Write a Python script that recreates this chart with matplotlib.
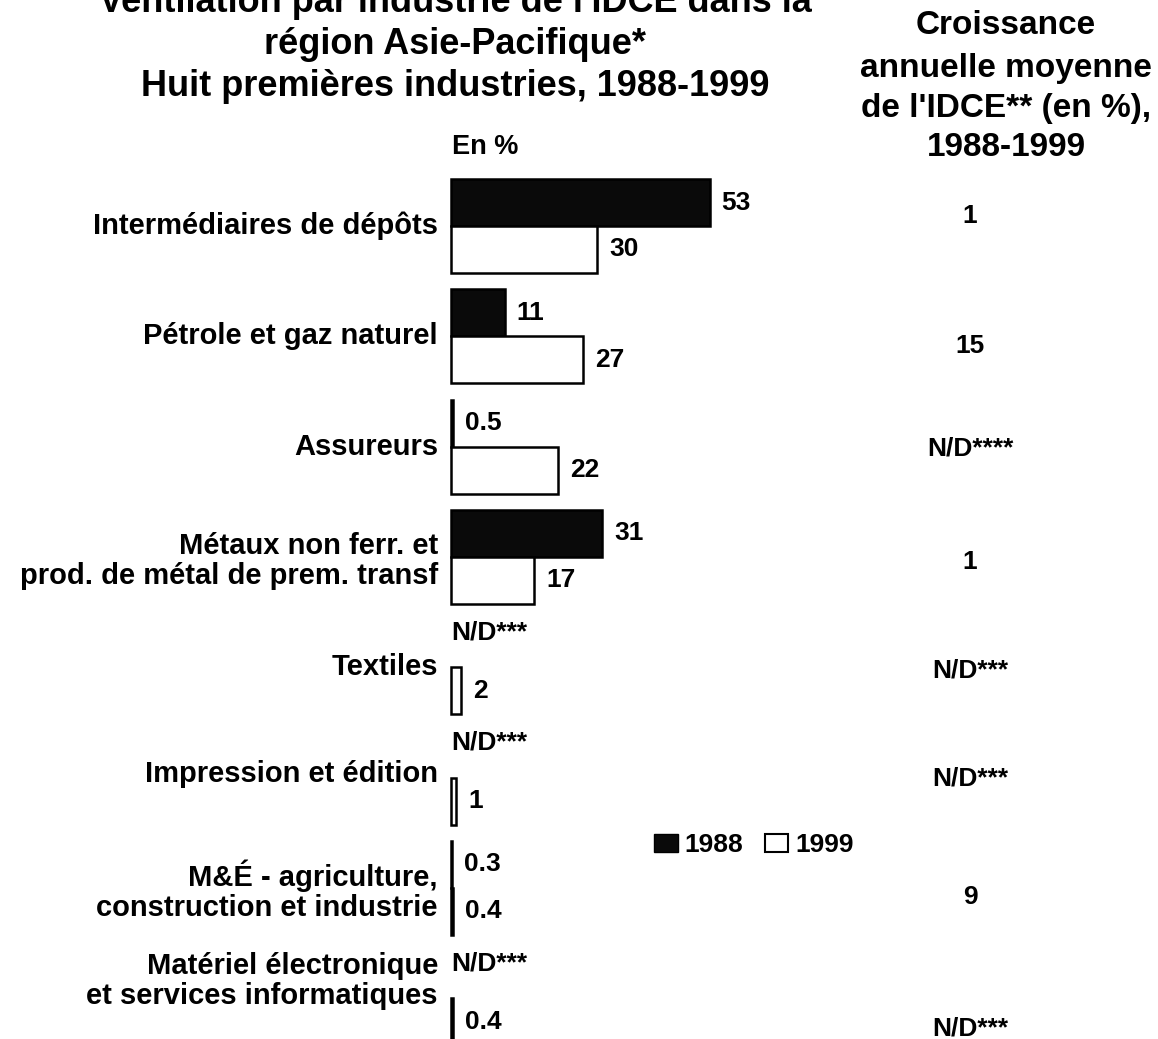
#! /usr/bin/env python3
# ----------------------------------------------------------------------------------------
# IDCE Asie-Pacifique : ventilation par industrie, 1988 et 1999.
# ----------------------------------------------------------------------------------------

import matplotlib
matplotlib.use('Agg')
import matplotlib.pyplot as plt
from matplotlib.patches import Patch

plt.rcParams['font.family'] = ['Liberation Sans', 'DejaVu Sans']
plt.rcParams['font.weight'] = 'bold'

industries = [
    "Intermédiaires de dépôts",
    "Pétrole et gaz naturel",
    "Assureurs",
    "Métaux non ferr. et\nprod. de métal de prem. transf",
    "Textiles",
    "Impression et édition",
    "M&É - agriculture,\nconstruction et industrie",
    "Matériel électronique\net services informatiques",
]
share_1988 = [53, 11, 0.5, 31, None, None, 0.3, None]
share_1999 = [30, 27, 22, 17, 2, 1, 0.4, 0.4]
growth = ["1", "15", "N/D****", "1", "N/D***", "N/D***", "9", "N/D***"]
missing_label = "N/D***"

title_lines = [
    "Ventilation par industrie de l'IDCE dans la",
    "région Asie-Pacifique*",
    "Huit premières industries, 1988-1999",
]
growth_header = [
    "Croissance",
    "annuelle moyenne",
    "de l'IDCE** (en %),",
    "1988-1999",
]

# layout, in pixels of the 1158 x 1039 picture
W, H = 1158, 1039
x0 = 451          # left edge of the bars
ppu = 4.88        # pixels per percent
y0 = 226          # centre of the first group
step = 110.3      # distance between groups
bar_h = 47 / step

label_dy = [0, 0, 0, 4, 0, -3, 3, -17]
growth_dy = [-10, 10, 2, 5, 3, 1, 9, 30]


def fx(px):
    return px / W


def fy(py):
    return 1 - py / H


fig = plt.figure(figsize=(W / 100, H / 100), dpi=100)
ax = fig.add_axes([0, 0, 1, 1])
ax.set_xlim(-x0 / ppu, (W - x0) / ppu)
ax.set_ylim((H - y0) / step, -y0 / step)
ax.axis('off')

for i, name in enumerate(industries):
    v88 = share_1988[i]
    v99 = share_1999[i]

    if v88 is not None:
        ax.barh(i - bar_h / 2, v88, height=bar_h, color='#0a0a0a',
                edgecolor='black', linewidth=1.8)
        ax.text(v88 + 12 / ppu, i - bar_h / 2, f"{v88:g}", fontsize=19,
                ha='left', va='center')
    else:
        ax.text(0, i - bar_h / 2 - 11 / step, missing_label, fontsize=19,
                ha='left', va='center')

    ax.barh(i + bar_h / 2, v99, height=bar_h, color='white',
            edgecolor='black', linewidth=1.8)
    ax.text(v99 + 12 / ppu, i + bar_h / 2, f"{v99:g}", fontsize=19,
            ha='left', va='center')

    ax.text(-13 / ppu, i + label_dy[i] / step, name, fontsize=21,
            ha='right', va='center', multialignment='right', linespacing=1.1)

    ax.text((970 - x0) / ppu, i + growth_dy[i] / step, growth[i], fontsize=19,
            ha='center', va='center')

# headers
for line, py in zip(title_lines, [3, 45, 86]):
    fig.text(fx(455), fy(py), line, fontsize=26, ha='center', va='center')

for line, py in zip(growth_header, [26, 68, 108, 148]):
    fig.text(fx(1006), fy(py), line, fontsize=24, ha='center', va='center')

fig.text(fx(452), fy(147), "En %", fontsize=19.5, ha='left', va='center')

handles = [
    Patch(facecolor='#0a0a0a', edgecolor='black', label='1988'),
    Patch(facecolor='white', edgecolor='black', linewidth=1.5, label='1999'),
]
fig.legend(handles=handles, loc='center', bbox_to_anchor=(fx(754), fy(845)),
           ncol=2, frameon=False, fontsize=19, handlelength=0.9,
           handleheight=0.7, handletextpad=0.25, columnspacing=0.8)

fig.savefig("out.png", dpi=100)
